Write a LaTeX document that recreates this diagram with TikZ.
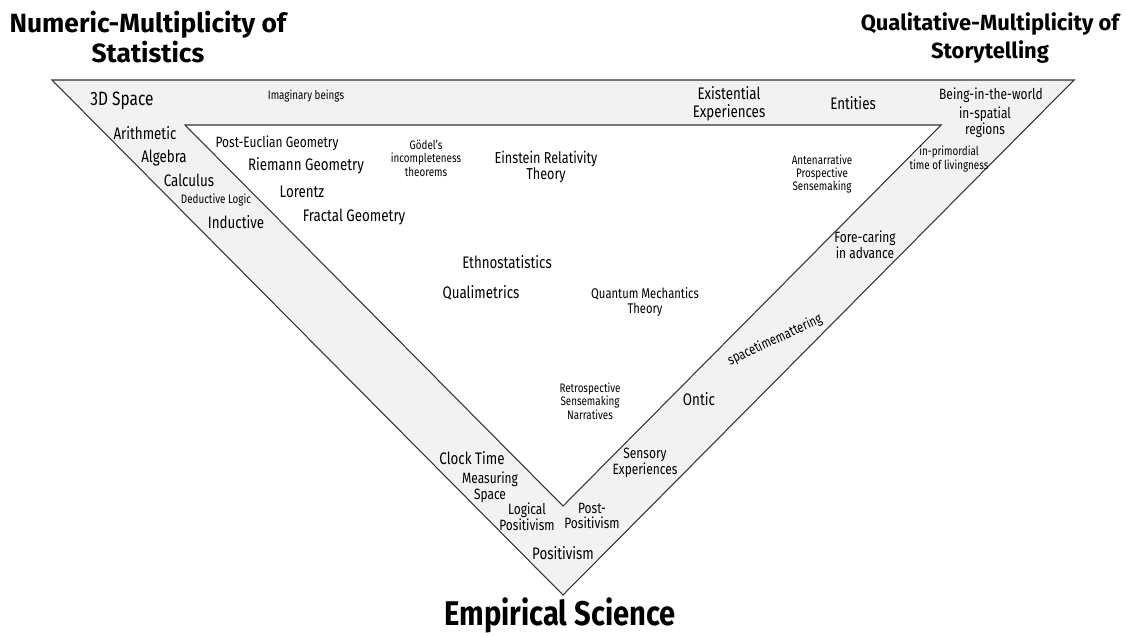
\documentclass[tikz,border=0pt]{standalone}
\usepackage{fontspec}
\setmainfont{Fira Sans}
\newfontfamily\etiq[FakeStretch=0.8]{Fira Sans}
\newfontfamily\titulo[FakeStretch=0.85]{Fira Sans}

\begin{document}
\begin{tikzpicture}[x=0.02cm,y=-0.02cm,
    banda/.style={fill=black!5, draw=black!80, line width=0.6pt, even odd rule},
    grande/.style={font=\etiq\fontsize{9.5}{10}\selectfont, align=center, inner sep=0pt},
    medio/.style={font=\etiq\fontsize{8.5}{9}\selectfont, align=center, inner sep=0pt},
    chico/.style={font=\etiq\fontsize{7}{7.6}\selectfont, align=center, inner sep=0pt},
    tit/.style={font=\bfseries\fontsize{15}{17}\selectfont, align=center, inner sep=0pt}]
    \useasboundingbox (0,0) rectangle (1125,636);

    % vertices del triangulo exterior e interior
    \coordinate (oA) at (52,80);
    \coordinate (oB) at (1074,80);
    \coordinate (oC) at (563,595);
    \coordinate (iA) at (185,125);
    \coordinate (iB) at (941,125);
    \coordinate (iC) at (563,506);

    % banda en V
    \draw[banda] (oA) -- (oB) -- (oC) -- cycle (iA) -- (iB) -- (iC) -- cycle;

    % titulos
    \node[tit] (numeric) at (148,37) {Numeric-Multiplicity of\\Statistics};
    \node[tit, font=\bfseries\fontsize{12.5}{16}\selectfont] (qualit) at (990,38) {Qualitative-Multiplicity of\\Storytelling};
    \node[tit, font=\titulo\bfseries\fontsize{19.5}{22}\selectfont] (empir) at (560,615) {Empirical Science};

    % banda superior
    \node[grande, font=\etiq\fontsize{11}{12}\selectfont] (space) at (122,101) {3D Space};
    \node[chico] (imag) at (306,96) {Imaginary beings};
    \node[grande] (exist) at (729,104) {Existential\\Experiences};
    \node[grande] (entit) at (853,103) {Entities};
    \node[medio] (being) at (991,95) {Being-in-the-world};
    \node[medio] (spatial) at (985,122) {in-spatial\\regions};
    \node[chico] (primord) at (949,159) {in-primordial\\time of livingness};

    % banda izquierda
    \node[grande] (arith) at (145,133) {Arithmetic};
    \node[grande] (algeb) at (164,158) {Algebra};
    \node[grande] (calc) at (189,180) {Calculus};
    \node[chico] (deduct) at (216,200) {Deductive Logic};
    \node[grande] (induct) at (236,222) {Inductive};
    \node[grande] (clock) at (472,458) {Clock Time};
    \node[medio] (measur) at (490,487) {Measuring\\Space};
    \node[medio] (logic) at (527,517) {Logical\\Positivism};
    \node[grande] (posit) at (563,553) {Positivism};

    % banda derecha
    \node[medio] (fore) at (865,245) {Fore-caring\\in advance};
    \node[chico, font=\etiq\fontsize{8}{8}\selectfont, rotate=25] (stm) at (775,340) {spacetimemattering};
    \node[grande] (ontic) at (699,399) {Ontic};
    \node[medio] (sensory) at (645,463) {Sensory\\Experiences};
    \node[medio] (postpos) at (592,516) {Post-\\Positivism};

    % interior
    \node[medio] (euclid) at (277,143) {Post-Euclian Geometry};
    \node[grande] (riem) at (306,166) {Riemann Geometry};
    \node[grande] (lorentz) at (302,192) {Lorentz};
    \node[grande] (fractal) at (354,217) {Fractal Geometry};
    \node[chico] (godel) at (426,158) {Gödel’s\\incompleteness\\theorems};
    \node[grande, font=\etiq\fontsize{9}{9.5}\selectfont] (einst) at (546,167) {Einstein Relativity\\Theory};
    \node[chico] (antena) at (822,174) {Antenarrative\\Prospective\\Sensemaking};
    \node[grande] (ethno) at (507,262) {Ethnostatistics};
    \node[grande] (quali) at (481,293) {Qualimetrics};
    \node[medio, font=\etiq\fontsize{8}{9}\selectfont] (quant) at (645,302) {Quantum Mechantics\\Theory};
    \node[chico] (retro) at (590,401) {Retrospective\\Sensemaking\\Narratives};
\end{tikzpicture}
\end{document}
